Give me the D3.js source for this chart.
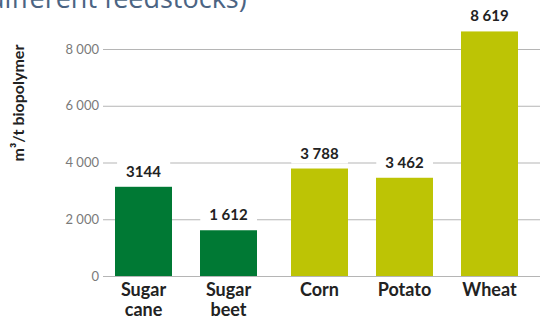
<!DOCTYPE html>
<html><head><meta charset="utf-8">
<script src="https://cdn.jsdelivr.net/npm/d3@7"></script>
<style>body{margin:0;background:#fff;}svg{display:block;}</style>
</head><body>
<svg id="c" width="540" height="321"></svg>
<script>
const categories = ["Sugar cane", "Sugar beet", "Corn", "Potato", "Wheat"];
const values = [3144, 1612, 3788, 3462, 8619];
const valueLabels = ["3144", "1 612", "3 788", "3 462", "8 619"];
const groups = ["sugar", "sugar", "starch", "starch", "starch"];
const tickValues = [0, 2000, 4000, 6000, 8000];
const tickLabels = ["0", "2 000", "4 000", "6 000", "8 000"];
const titleText = "different feedstocks)";
const yTitle = "m³/t biopolymer";

const colors = {sugar: "#007934", starch: "#bdc405"};
const groupShift = {sugar: 0, starch: 6};
const font = "Lato, 'Open Sans', sans-serif";

const svg = d3.select("#c");
const y = d3.scaleLinear().domain([0, 8000]).range([276, 49]);
const x = d3.scaleBand().domain(categories).range([115, 512]).paddingInner(28 / 85).paddingOuter(0);

// title (cut off at top, as in the source)
svg.append("text").attr("x", -12).attr("y", 8)
  .attr("font-family", "'Open Sans', sans-serif").attr("font-size", 27)
  .attr("fill", "#4b6483").text(titleText);

// gridlines
svg.append("g").selectAll("line").data(tickValues).join("line")
  .attr("x1", 103).attr("x2", 540)
  .attr("y1", d => y(d) + 0.5).attr("y2", d => y(d) + 0.5)
  .attr("stroke", "#b5b5b5").attr("stroke-width", 1);

// tick labels
svg.append("g").selectAll("text").data(tickValues).join("text")
  .attr("x", 99).attr("y", d => y(d)).attr("dy", "0.35em")
  .attr("text-anchor", "end").attr("font-family", font).attr("font-size", 13)
  .attr("fill", "#7a7a7a").text((d, i) => tickLabels[i]);

// y title
svg.append("text").attr("transform", "translate(24,103) rotate(-90)")
  .attr("text-anchor", "middle").attr("font-family", font).attr("font-weight", "bold")
  .attr("font-size", 16).attr("fill", "#222").text(yTitle);

const bx = (d, i) => x(d) + groupShift[groups[i]];

// value labels with white background
const lg = svg.append("g").selectAll("g").data(categories).join("g");
lg.each(function(d, i) {
  const g = d3.select(this);
  const t = g.append("text")
    .attr("x", bx(d, i) + x.bandwidth() / 2).attr("y", y(values[i]) - 10)
    .attr("text-anchor", "middle").attr("font-family", font).attr("font-weight", "bold")
    .attr("font-size", 15).attr("fill", "#222").text(valueLabels[i]);
  const bb = t.node().getBBox();
  g.insert("rect", "text").attr("x", bb.x - 9).attr("y", bb.y - 2)
    .attr("width", bb.width + 18).attr("height", bb.height + 4).attr("fill", "#fff");
});

// bars
svg.append("g").selectAll("rect").data(categories).join("rect")
  .attr("x", bx).attr("width", x.bandwidth())
  .attr("y", (d, i) => y(values[i])).attr("height", (d, i) => y(0) - y(values[i]))
  .attr("fill", (d, i) => colors[groups[i]]);

// category labels
const cl = svg.append("g").selectAll("text").data(categories).join("text")
  .attr("x", (d, i) => bx(d, i) + x.bandwidth() / 2).attr("y", 296)
  .attr("text-anchor", "middle").attr("font-family", font).attr("font-weight", "bold")
  .attr("font-size", 18).attr("fill", "#222");
cl.each(function(d) {
  const words = d.split(" ");
  d3.select(this).selectAll("tspan").data(words).join("tspan")
    .attr("x", d3.select(this).attr("x")).attr("dy", (w, j) => j === 0 ? 0 : 20).text(w => w);
});
</script>
</body></html>
